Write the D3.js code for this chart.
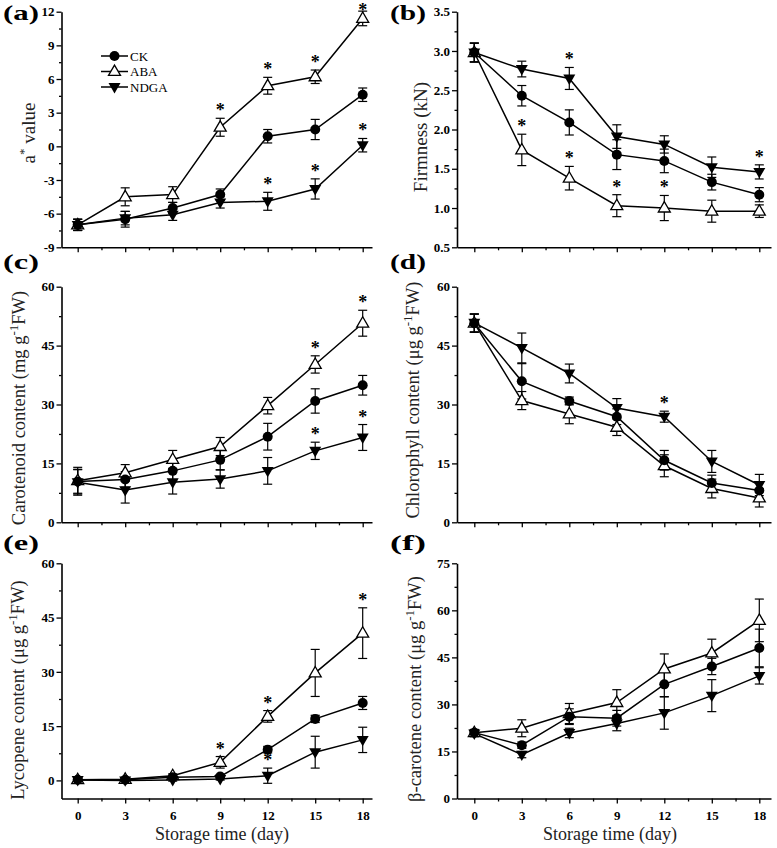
<!DOCTYPE html>
<html><head><meta charset="utf-8">
<script src="https://cdn.jsdelivr.net/npm/d3@7"></script>
<style>body{margin:0;background:#fff}svg{display:block}</style>
</head><body><svg id="c" width="777" height="848"></svg>
<script>
// ---------- DATA ----------
const days = [0, 3, 6, 9, 12, 15, 18];
const seriesNames = ["CK", "ABA", "NDGA"];

// (a) a* value
const aCK = [-7.0, -6.5, -5.5, -4.3, 0.9, 1.5, 4.6];
const aCKerr = [0.5, 0.7, 0.5, 0.5, 0.6, 0.9, 0.6];
const aABA = [-7.0, -4.5, -4.3, 1.7, 5.4, 6.2, 11.4];
const aABAerr = [0.5, 0.8, 0.7, 0.8, 0.75, 0.6, 0.65];
const aNDGA = [-7.0, -6.4, -6.1, -5.0, -4.9, -3.8, 0.1];
const aNDGAerr = [0.5, 0.6, 0.5, 0.5, 0.8, 0.9, 0.6];
const aStarsABA = [9, 12, 15, 18];
const aStarsNDGA = [12, 15, 18];
const aTicks = [-9, -6, -3, 0, 3, 6, 9, 12];

// (b) Firmness
const bCK = [2.98, 2.43, 2.09, 1.68, 1.60, 1.33, 1.17];
const bCKerr = [0.12, 0.13, 0.16, 0.19, 0.15, 0.10, 0.09];
const bABA = [2.98, 1.74, 1.38, 1.03, 1.00, 0.96, 0.96];
const bABAerr = [0.12, 0.20, 0.15, 0.14, 0.16, 0.14, 0.08];
const bNDGA = [2.98, 2.77, 2.65, 1.91, 1.81, 1.52, 1.46];
const bNDGAerr = [0.12, 0.10, 0.14, 0.15, 0.11, 0.13, 0.09];
const bStarsABA = [3, 6, 9, 12];
const bStarsNDGA = [6, 18];
const bTicks = [0.5, 1.0, 1.5, 2.0, 2.5, 3.0, 3.5];

// (c) Carotenoid
const cCK = [10.4, 10.9, 13.1, 15.9, 21.8, 30.9, 34.9];
const cCKerr = [3.0, 2.0, 2.5, 2.5, 3.4, 3.1, 2.5];
const cABA = [10.6, 12.6, 16.0, 19.3, 29.7, 40.2, 50.7];
const cABAerr = [3.4, 2.1, 2.3, 2.3, 2.1, 2.2, 3.3];
const cNDGA = [10.2, 8.2, 10.2, 11.0, 13.1, 18.2, 21.6];
const cNDGAerr = [3.3, 3.3, 3.0, 2.3, 3.4, 2.2, 3.3];
const cStarsABA = [15, 18];
const cStarsNDGA = [15, 18];
const cTicks = [0, 15, 30, 45, 60];

// (d) Chlorophyll
const dCK = [50.7, 35.9, 30.9, 26.9, 15.8, 10.0, 8.1];
const dCKerr = [2.3, 4.5, 1.0, 2.0, 2.5, 2.0, 2.0];
const dABA = [50.7, 31.0, 27.6, 24.2, 14.4, 8.6, 6.2];
const dABAerr = [2.3, 2.3, 2.5, 2.1, 2.8, 2.4, 2.3];
const dNDGA = [50.8, 44.4, 37.9, 29.1, 26.9, 15.5, 9.5];
const dNDGAerr = [2.3, 3.8, 2.4, 2.4, 1.4, 2.8, 2.7];
const dStarsABA = [];
const dStarsNDGA = [12];
const dTicks = [0, 15, 30, 45, 60];

// (e) Lycopene
const eCK = [0.2, 0.2, 0.9, 1.1, 8.5, 17.0, 21.4];
const eCKerr = [0.3, 0.3, 0.4, 0.5, 0.9, 1.0, 1.8];
const eABA = [0.2, 0.3, 1.3, 5.0, 17.7, 29.7, 40.7];
const eABAerr = [0.3, 0.3, 0.5, 1.6, 1.6, 6.5, 7.0];
const eNDGA = [0.1, 0.0, 0.1, 0.4, 1.3, 7.8, 11.2];
const eNDGAerr = [0.3, 0.3, 0.3, 0.3, 2.1, 4.4, 3.5];
const eStarsABA = [9, 12, 18];
const eStarsNDGA = [12];
const eTicks = [0, 15, 30, 45, 60];

// (f) beta-carotene
const fCK = [21.0, 17.0, 26.1, 25.6, 36.4, 42.1, 48.0];
const fCKerr = [1.0, 1.0, 2.5, 2.5, 4.0, 2.6, 6.0];
const fABA = [21.0, 22.4, 27.1, 30.6, 41.3, 46.4, 56.8];
const fABAerr = [1.0, 2.7, 3.2, 4.1, 4.8, 4.4, 6.8];
const fNDGA = [20.7, 14.0, 20.9, 23.9, 27.3, 32.8, 39.1];
const fNDGAerr = [1.0, 1.0, 1.5, 2.3, 5.2, 5.1, 2.6];
const fStarsABA = [];
const fStarsNDGA = [];
const fTicks = [0, 15, 30, 45, 60, 75];

const xTitle = "Storage time (day)";

// ---------- LAYOUT ----------
const FONT = "'Liberation Serif','Times New Roman',Times,serif";
const rows = [{y0: 247.3, y1: 11.7}, {y0: 522.3, y1: 286.7}, {y0: 798.5, y1: 563.3}];
const cols = [{axisX: 61.5, x0: 77.7, x18: 362.7, end: 372, lx: 3},
              {axisX: 457, x0: 474.3, x18: 759.3, end: 771, lx: 390}];

const panels = [
  {label: "(a)", row: 0, col: 0, dom: [-9, 12], ticks: aTicks, fmt: d => String(d),
   data: [aCK, aABA, aNDGA], err: [aCKerr, aABAerr, aNDGAerr], stars: [[], aStarsABA, aStarsNDGA],
   title: [["a", 0], ["*", 1], [" value", 0]], tfs: 19, tx: 35, ty: 133, ly: 20, legend: true},
  {label: "(b)", row: 0, col: 1, dom: [0.5, 3.5], ticks: bTicks, fmt: d3.format(".1f"),
   data: [bCK, bABA, bNDGA], err: [bCKerr, bABAerr, bNDGAerr], stars: [[], bStarsABA, bStarsNDGA],
   title: [["Firmness (kN)", 0]], tfs: 19, tx: 427, ty: 137, ly: 20},
  {label: "(c)", row: 1, col: 0, dom: [0, 60], ticks: cTicks, fmt: d => String(d),
   data: [cCK, cABA, cNDGA], err: [cCKerr, cABAerr, cNDGAerr], stars: [[], cStarsABA, cStarsNDGA],
   title: [["Carotenoid content (mg g", 0], ["-1", 1], ["FW)", 0]], tfs: 18.5, tx: 25, ty: 408, ly: 269},
  {label: "(d)", row: 1, col: 1, dom: [0, 60], ticks: dTicks, fmt: d => String(d),
   data: [dCK, dABA, dNDGA], err: [dCKerr, dABAerr, dNDGAerr], stars: [[], dStarsABA, dStarsNDGA],
   title: [["Chlorophyll content (\u03bcg g", 0], ["-1", 1], ["FW)", 0]], tfs: 18.5, tx: 419, ty: 400, ly: 269},
  {label: "(e)", row: 2, col: 0, dom: [-5, 60], ticks: eTicks, fmt: d => String(d),
   data: [eCK, eABA, eNDGA], err: [eCKerr, eABAerr, eNDGAerr], stars: [[], eStarsABA, eStarsNDGA],
   title: [["Lycopene content (\u03bcg g", 0], ["-1", 1], ["FW)", 0]], tfs: 18.5, tx: 24, ty: 690, ly: 550,
   xlabels: true, xtx: 222},
  {label: "(f)", row: 2, col: 1, dom: [0, 75], ticks: fTicks, fmt: d => String(d),
   data: [fCK, fABA, fNDGA], err: [fCKerr, fABAerr, fNDGAerr], stars: [[], fStarsABA, fStarsNDGA],
   title: [["\u03b2-carotene content (\u03bcg g", 0], ["-1", 1], ["FW)", 0]], tfs: 18.5, tx: 421, ty: 689, ly: 550,
   xlabels: true, xtx: 610}
];

const svg = d3.select("#c");
svg.append("rect").attr("width", 777).attr("height", 848).attr("fill", "#fff");

const triArea = Math.sqrt(3) / 4 * 12 * 12;
function drawMarker(g, s, x, y) {
  if (s === 0) {
    g.append("circle").attr("cx", x).attr("cy", y).attr("r", 5).attr("fill", "#000");
  } else if (s === 1) {
    g.append("path").attr("d", d3.symbol(d3.symbolTriangle, triArea)())
      .attr("transform", `translate(${x},${y + 0.5})`)
      .attr("fill", "#fff").attr("stroke", "#000").attr("stroke-width", 1.3);
  } else {
    g.append("path").attr("d", d3.symbol(d3.symbolTriangle, triArea)())
      .attr("transform", `translate(${x},${y - 0.5}) rotate(180)`)
      .attr("fill", "#000");
  }
}

panels.forEach(p => {
  const r = rows[p.row], c = cols[p.col];
  const xs0 = d3.scaleLinear().domain([0, 18]).range([c.x0, c.x18]);
  const x = d3.scaleLinear().domain([xs0.invert(c.axisX), xs0.invert(c.end)]).range([c.axisX, c.end]);
  const y = d3.scaleLinear().domain(p.dom).range([r.y0, r.y1]);
  const g = svg.append("g");

  // minor ticks
  const step = p.ticks[1] - p.ticks[0];
  const yMinor = p.ticks.slice(0, -1).map(t => t + step / 2);
  const xMinor = days.slice(0, -1).map(t => t + 1.5);

  const yMin = g.append("g").attr("transform", `translate(${c.axisX},0)`)
    .call(d3.axisLeft(y).tickValues(yMinor).tickSize(2.5).tickFormat(""));
  yMin.select(".domain").remove();
  const xMin = g.append("g").attr("transform", `translate(0,${r.y0})`)
    .call(d3.axisBottom(x).tickValues(xMinor).tickSize(3).tickFormat(""));
  xMin.select(".domain").remove();

  const yAx = g.append("g").attr("transform", `translate(${c.axisX},0)`)
    .call(d3.axisLeft(y).tickValues(p.ticks).tickSize(5).tickSizeOuter(0).tickPadding(2).tickFormat(p.fmt));
  const xAx = g.append("g").attr("transform", `translate(0,${r.y0})`)
    .call(d3.axisBottom(x).tickValues(days).tickSize(5).tickSizeOuter(0).tickPadding(7)
      .tickFormat(p.xlabels ? (d => String(d)) : ""));
  [yAx, xAx, yMin, xMin].forEach(a => {
    a.selectAll("line").attr("stroke", "#000").attr("stroke-width", 1.3);
    a.selectAll(".domain").attr("stroke", "#000").attr("stroke-width", 1.6);
    a.selectAll("text").attr("font-family", FONT).attr("font-weight", "bold")
      .attr("font-size", 13).attr("fill", "#000");
  });

  // lines
  const line = d3.line().x((d, i) => x(days[i])).y(d => y(d));
  p.data.forEach(s => {
    g.append("path").attr("d", line(s)).attr("fill", "none").attr("stroke", "#000").attr("stroke-width", 1.5);
  });
  // error bars
  p.data.forEach((s, si) => {
    s.forEach((v, i) => {
      const e = p.err[si][i], cx = x(days[i]);
      const top = y(v + e), bot = y(v - e);
      g.append("line").attr("x1", cx).attr("x2", cx).attr("y1", top).attr("y2", bot)
        .attr("stroke", "#000").attr("stroke-width", 1.2);
      [top, bot].forEach(yy => g.append("line").attr("x1", cx - 4.5).attr("x2", cx + 4.5)
        .attr("y1", yy).attr("y2", yy).attr("stroke", "#000").attr("stroke-width", 1.2));
    });
  });
  // markers
  [1, 2, 0].forEach(si => {
    p.data[si].forEach((v, i) => drawMarker(g, si, x(days[i]), y(v)));
  });
  // asterisks
  p.stars.forEach((list, si) => {
    list.forEach(dd => {
      const i = days.indexOf(dd);
      const top = y(p.data[si][i] + p.err[si][i]);
      g.append("text").attr("x", x(dd)).attr("y", Math.max(top - 2, 16)).attr("text-anchor", "middle")
        .attr("font-family", FONT).attr("font-weight", "bold").attr("font-size", 18).text("*");
    });
  });

  // y title
  const t = g.append("text").attr("transform", `translate(${p.tx},${p.ty}) rotate(-90)`)
    .attr("text-anchor", "middle").attr("font-family", FONT).attr("font-size", p.tfs).attr("fill", "#222");
  let prevSup = 0;
  p.title.forEach(([txt, sup]) => {
    const ts = t.append("tspan").text(txt);
    if (sup) { ts.attr("font-size", 13).attr("dy", -7); }
    else if (prevSup) { ts.attr("dy", 7); }
    prevSup = sup;
  });

  // x title
  if (p.xlabels) {
    g.append("text").attr("x", p.xtx).attr("y", 840).attr("text-anchor", "middle")
      .attr("font-family", FONT).attr("font-size", 18).attr("fill", "#222").text(xTitle);
  }

  // panel label
  g.append("text").attr("x", c.lx).attr("y", p.ly)
    .attr("font-family", FONT).attr("font-weight", "bold").attr("font-size", 22)
    .attr("textLength", 36).attr("lengthAdjust", "spacingAndGlyphs").text(p.label);

  // legend
  if (p.legend) {
    [56, 71.5, 87].forEach((ly, si) => {
      g.append("line").attr("x1", 101).attr("x2", 128).attr("y1", ly).attr("y2", ly)
        .attr("stroke", "#000").attr("stroke-width", 1.5);
      drawMarker(g, si, 114.5, ly);
      g.append("text").attr("x", 130).attr("y", ly + 4.5).attr("font-family", FONT)
        .attr("font-size", 13).text(seriesNames[si]);
    });
  }
});
</script></body></html>
